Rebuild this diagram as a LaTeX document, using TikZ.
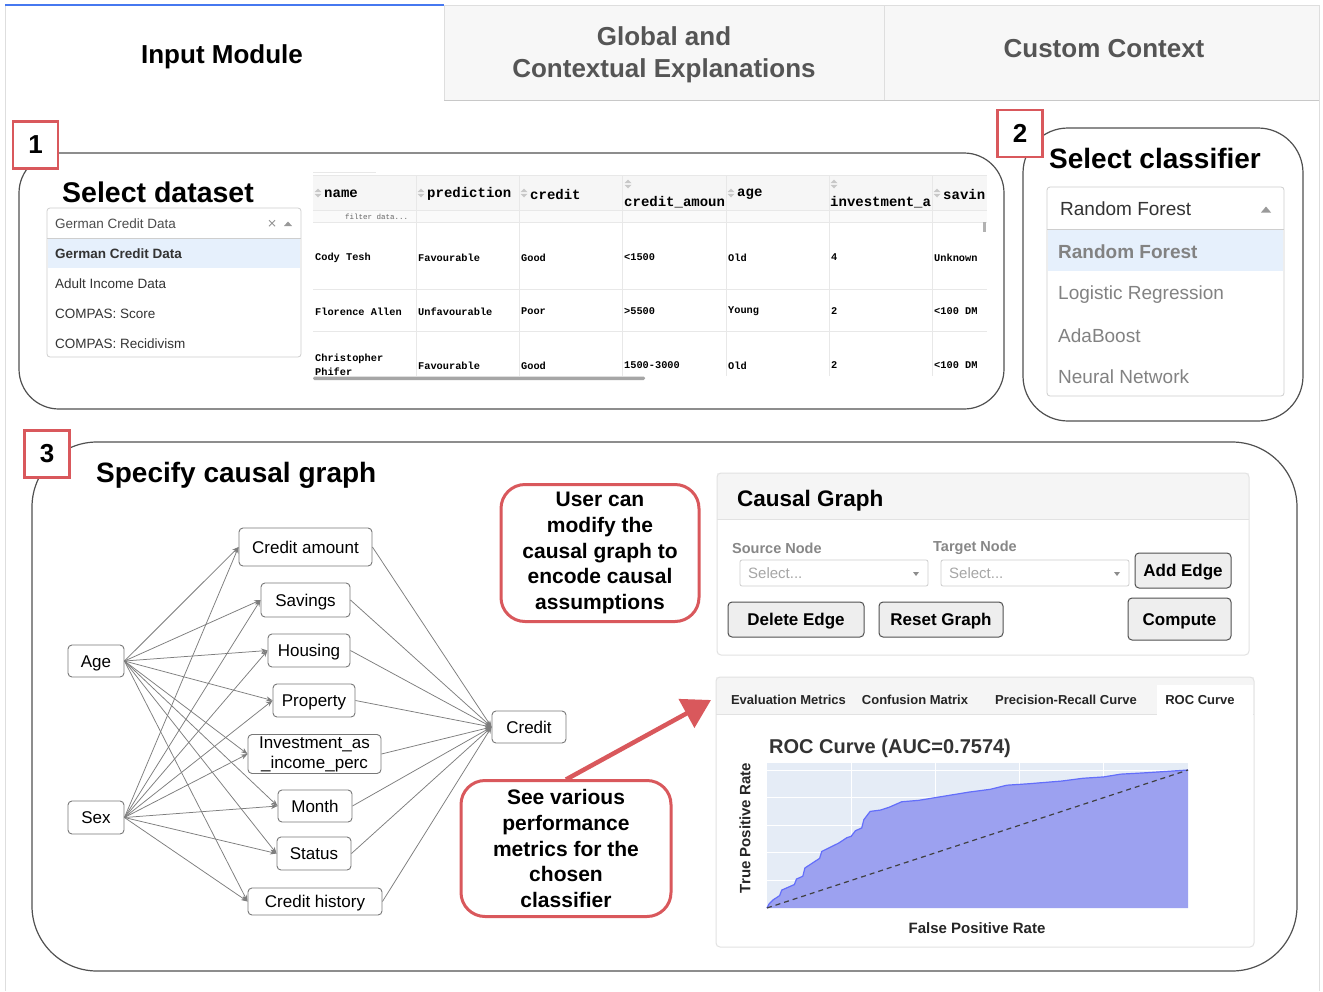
\documentclass[tikz,border=0pt]{standalone}
\usepackage{fontspec}
\setmainfont{Liberation Sans}
\newfontfamily\tablemono{Liberation Mono}
\newfontfamily\symfont{DejaVu Sans}
\usetikzlibrary{arrows.meta}
\newcommand{\pxf}[2]{\fontsize{#1}{#2}\selectfont}

\definecolor{callred}{RGB}{217,88,92}
\definecolor{tabgray}{RGB}{247,247,247}
\definecolor{tabline}{RGB}{222,222,222}
\definecolor{tabtext}{RGB}{85,85,85}
\definecolor{tabblue}{RGB}{70,120,240}
\definecolor{panelline}{RGB}{80,80,80}
\definecolor{ddline}{RGB}{206,206,206}
\definecolor{selblue}{RGB}{230,240,252}
\definecolor{cellline}{RGB}{232,232,232}
\definecolor{headfill}{RGB}{246,246,246}
\definecolor{sortgray}{RGB}{200,200,200}
\definecolor{gnodeline}{RGB}{120,120,120}
\definecolor{edgegray}{RGB}{125,125,125}
\definecolor{boxline}{RGB}{226,226,226}
\definecolor{hdrfill}{RGB}{245,245,245}
\definecolor{btnline}{RGB}{80,80,80}
\definecolor{btnfill}{RGB}{238,238,238}
\definecolor{plotbg}{RGB}{229,236,246}
\definecolor{rocfill}{RGB}{156,161,240}
\definecolor{rocline}{RGB}{99,110,250}
\definecolor{labgray}{RGB}{135,135,135}
\definecolor{optgray}{RGB}{130,130,130}

\tikzset{
  txt/.style={inner sep=0pt, anchor=west},
  panel/.style={draw=panelline, line width=1.2pt},
  numbox/.style={draw=callred, line width=2.4pt, fill=white, minimum width=45pt,
    minimum height=47pt, inner sep=0pt, font=\pxf{26}{26}\bfseries},
  ddbox/.style={draw=ddline, line width=0.8pt, rounded corners=3pt, fill=white},
  gnode/.style={draw=gnodeline, line width=0.9pt, rounded corners=4pt, fill=white,
    inner sep=0pt, font=\pxf{17}{20}, align=center},
  oneline/.style={text height=12.2pt, text depth=0pt},
  gedge/.style={draw=edgegray, line width=0.75pt, -{Stealth[length=6.5pt,width=5pt]}},
  callout/.style={draw=callred, line width=3pt, rounded corners=24pt, fill=white,
    inner sep=0pt, font=\pxf{21}{25.7}\bfseries, align=center},
  btn/.style={draw=btnline, line width=1pt, fill=btnfill, rounded corners=4pt,
    inner sep=0pt, font=\pxf{17}{17}\bfseries, oneline},
  selbox/.style={draw=ddline, line width=0.8pt, rounded corners=2pt, fill=white},
  thead/.style={txt, font=\tablemono\bfseries\pxf{14}{14}},
  tcell/.style={txt, font=\tablemono\bfseries\pxf{10.3}{12}},
  sorticon/.pic={
    \fill[sortgray] (-3.5,-0.8) -- (3.5,-0.8) -- (0,-4.5) -- cycle;
    \fill[sortgray] (-3.5,0.8) -- (3.5,0.8) -- (0,4.5) -- cycle;
  },
}

\begin{document}
\begin{tikzpicture}[x=1pt, y=-1pt]
\useasboundingbox (0,0) rectangle (1323,991);
\fill[white] (0,0) rectangle (1323,991);

% ---------- page frame and tab bar ----------
\draw[tabline, line width=0.8pt] (5,5) -- (5,991);
\draw[tabline, line width=0.8pt] (1319,5) -- (1319,991);
\fill[tabgray] (444,5) rectangle (1319,100);
\draw[tabline, line width=0.8pt] (444,5) -- (1319,5);
\draw[tabline, line width=0.8pt] (444,5) -- (444,100);
\draw[tabline, line width=0.8pt] (884,5) -- (884,100);
\draw[tabline!90!black, line width=1.2pt] (444,100.5) -- (1319,100.5);
\draw[tabblue, line width=2pt] (5,5) -- (444,5);

\node[inner sep=0pt, anchor=base, font=\pxf{26}{26}\bfseries] (tabinput) at (222,63) {Input Module};
\node[inner sep=0pt, anchor=base, font=\pxf{26}{26}\bfseries, text=tabtext] (tabglobal1) at (664,45) {Global and};
\node[inner sep=0pt, anchor=base, font=\pxf{26}{26}\bfseries, text=tabtext] (tabglobal2) at (664,77) {Contextual Explanations};
\node[inner sep=0pt, anchor=base, font=\pxf{26}{26}\bfseries, text=tabtext] (tabcustom) at (1104,57) {Custom Context};

% ---------- section 1: dataset ----------
\draw[panel, rounded corners=40pt] (19,153) rectangle (1004,409);
\node[numbox] (num1) at (35.5,145) {1};
\node[inner sep=0pt, anchor=base west, font=\pxf{28.5}{28.5}\bfseries] (seldata) at (62,202) {Select dataset};

\draw[ddbox] (47,208) rectangle (301,357);
\fill[selblue] (47.6,238) rectangle (300.4,268);
\draw[ddline, line width=0.8pt] (47,238) -- (301,238);
\node[txt, font=\pxf{13.5}{14}, text=black!70] (dd1head) at (55,223.5) {German Credit Data};
\node[txt, font=\symfont\pxf{12}{12}, text=black!45] (dd1x) at (267,224) {×};
\fill[black!40] (284,226) -- (292,226) -- (288,221.5) -- cycle;
\node[txt, font=\pxf{13.5}{14}\bfseries, text=black!80] (dd1a) at (55,253.5) {German Credit Data};
\node[txt, font=\pxf{13.5}{14}, text=black!80] (dd1b) at (55,283.5) {Adult Income Data};
\node[txt, font=\pxf{13.5}{14}, text=black!80] (dd1c) at (55,313.5) {COMPAS: Score};
\node[txt, font=\pxf{13.5}{14}, text=black!80] (dd1d) at (55,343.5) {COMPAS: Recidivism};

% data table
\fill[headfill] (313,175) rectangle (987,210);
\fill[black!2] (313,210) rectangle (987,222);
\foreach \yy in {175,210,222,289,331} {\draw[cellline, line width=0.8pt] (313,\yy) -- (987,\yy);}
\foreach \xx in {416,519,622,726,829,932} {\draw[cellline, line width=0.8pt] (\xx,175) -- (\xx,376);}
\draw[cellline, line width=0.8pt] (313,172) -- (376,172);
\fill[black!35, rounded corners=1.5pt] (313,376.5) rectangle (645,380);
\fill[black!30] (983,222) rectangle (986,232);

\pic at (318,193) {sorticon};
\node[thead] (hname) at (324,194) {name};
\pic at (421,193) {sorticon};
\node[thead] (hpred) at (427,194) {prediction};
\pic at (524,193) {sorticon};
\node[thead] (hcred) at (530,194) {credit};
\pic at (628,184) {sorticon};
\node[thead] (hamt) at (624,202.5) {credit\_amoun};
\pic at (731,193) {sorticon};
\node[thead] (hage) at (737,194) {age};
\pic at (834,184) {sorticon};
\node[thead] (hinv) at (830,202.5) {investment\_a};
\pic at (937,193) {sorticon};
\node[thead] (hsav) at (943,194) {savin};
\node[txt, font=\tablemono\pxf{7.5}{8}, text=black!60] (filt) at (345,217) {filter data...};

\node[tcell] (r1a) at (315,257.5) {Cody Tesh};
\node[tcell] (r1b) at (418,257.5) {Favourable};
\node[tcell] (r1c) at (521,257.5) {Good};
\node[tcell] (r1d) at (624,257.5) {<1500};
\node[tcell] (r1e) at (728,257.5) {Old};
\node[tcell] (r1f) at (831,257.5) {4};
\node[tcell] (r1g) at (934,257.5) {Unknown};

\node[tcell] (r2a) at (315,311.5) {Florence Allen};
\node[tcell] (r2b) at (418,311.5) {Unfavourable};
\node[tcell] (r2c) at (521,311.5) {Poor};
\node[tcell] (r2d) at (624,311.5) {>5500};
\node[tcell] (r2e) at (728,311.5) {Young};
\node[tcell] (r2f) at (831,311.5) {2};
\node[tcell] (r2g) at (934,311.5) {<100 DM};

\node[tcell] (r3a1) at (315,358.5) {Christopher};
\node[tcell] (r3a2) at (315,372) {Phifer};
\node[tcell] (r3b) at (418,365.5) {Favourable};
\node[tcell] (r3c) at (521,365.5) {Good};
\node[tcell] (r3d) at (624,365.5) {1500-3000};
\node[tcell] (r3e) at (728,365.5) {Old};
\node[tcell] (r3f) at (831,365.5) {2};
\node[tcell] (r3g) at (934,365.5) {<100 DM};

% ---------- section 2: classifier ----------
\draw[panel, rounded corners=45pt] (1023,128) rectangle (1303,421);
\node[numbox] (num2) at (1020,133.5) {2};
\node[inner sep=0pt, anchor=base west, font=\pxf{28}{28}\bfseries] (selclf) at (1049,168) {Select classifier};

\draw[ddbox] (1047,187) rectangle (1284,396);
\fill[selblue] (1047.6,229) rectangle (1283.4,271);
\draw[ddline, line width=0.8pt] (1047,229) -- (1284,229);
\node[txt, font=\pxf{19}{20}, text=black!80] (dd2head) at (1060,208.5) {Random Forest};
\fill[black!40] (1261,212.5) -- (1271,212.5) -- (1266,206.5) -- cycle;
\node[txt, font=\pxf{19}{20}\bfseries, text=optgray] (dd2a) at (1058,251.5) {Random Forest};
\node[txt, font=\pxf{19}{20}, text=optgray] (dd2b) at (1058,295) {Logistic Regression};
\node[txt, font=\pxf{19}{20}, text=optgray] (dd2c) at (1058,335.5) {AdaBoost};
\node[txt, font=\pxf{19}{20}, text=optgray] (dd2d) at (1058,376.5) {Neural Network};

% ---------- section 3: causal graph ----------
\draw[panel, rounded corners=65pt] (32,442) rectangle (1297,971);
\node[numbox] (num3) at (47,454) {3};
\node[inner sep=0pt, anchor=base west, font=\pxf{28}{28}\bfseries] (specify) at (96,482) {Specify causal graph};

% graph nodes
\node[gnode, oneline, minimum width=56pt, minimum height=32pt] (age) at (96,661) {Age};
\node[gnode, oneline, minimum width=56pt, minimum height=33pt] (sex) at (96,817.5) {Sex};
\node[gnode, oneline, minimum width=133pt, minimum height=38pt] (camt) at (305.5,547) {Credit amount};
\node[gnode, oneline, minimum width=89pt, minimum height=34pt] (sav) at (305.5,600) {Savings};
\node[gnode, oneline, minimum width=82pt, minimum height=33pt] (hous) at (309,650.5) {Housing};
\node[gnode, oneline, minimum width=82pt, minimum height=33pt] (prop) at (314,700.5) {Property};
\node[gnode, minimum width=133pt, minimum height=39pt] (inv) at (314.5,754) {Investment\_as\\\_income\_perc};
\node[gnode, oneline, minimum width=74pt, minimum height=32pt] (mon) at (315,806) {Month};
\node[gnode, oneline, minimum width=74pt, minimum height=33pt] (stat) at (314,853.5) {Status};
\node[gnode, oneline, minimum width=134pt, minimum height=27pt] (chist) at (315,901.5) {Credit history};
\node[gnode, oneline, minimum width=74pt, minimum height=32pt] (credit) at (529,727) {Credit};

\foreach \t in {camt,sav,hous,prop,inv,mon,stat,chist} {
  \draw[gedge] (age.east) -- (\t.west);
  \draw[gedge] (sex.east) -- (\t.west);
  \draw[gedge] (\t.east) -- (credit.west);
}

% annotation callouts
\node[callout, minimum width=198pt, minimum height=137pt] (usercan) at (600,553)
  {User can\\modify the\\causal graph to\\encode causal\\assumptions};
\node[callout, minimum width=210pt, minimum height=136pt] (seevar) at (566,848.5)
  {See various\\performance\\metrics for the\\chosen\\classifier};
\coordinate (metricsarrow) at (711,700);
\draw[callred, line width=4.5pt, -{Triangle[length=28pt,width=32pt]}] (566,779.5) -- (metricsarrow);

% causal graph control panel
\fill[white] (717,473) rectangle (1249,655);
\fill[hdrfill] (717,473) rectangle (1249,519);
\draw[boxline, line width=0.8pt] (717,519) -- (1249,519);
\draw[boxline, line width=1pt, rounded corners=4pt] (717,473) rectangle (1249,655);
\node[inner sep=0pt, anchor=base west, font=\pxf{22.5}{23}\bfseries] (cgtitle) at (737,506) {Causal Graph};
\node[txt, font=\pxf{14.5}{15}\bfseries, text=labgray] (srclab) at (732,548) {Source Node};
\node[txt, font=\pxf{14.5}{15}\bfseries, text=labgray] (tgtlab) at (933,548) {Target Node};
\draw[selbox] (740,560) rectangle (928,586);
\node[txt, font=\pxf{15}{15}, text=black!35] (srcsel) at (748,573) {Select...};
\fill[black!45] (913,572) -- (919,572) -- (916,576) -- cycle;
\draw[selbox] (941,560) rectangle (1129,586);
\node[txt, font=\pxf{15}{15}, text=black!35] (tgtsel) at (949,573) {Select...};
\fill[black!45] (1114,572) -- (1120,572) -- (1117,576) -- cycle;
\node[btn, minimum width=96pt, minimum height=35pt] (addedge) at (1183,570.5) {Add Edge};
\node[btn, minimum width=136pt, minimum height=35pt] (deledge) at (796,619.5) {Delete Edge};
\node[btn, minimum width=124pt, minimum height=35pt] (resetg) at (941,619.5) {Reset Graph};
\node[btn, minimum width=103pt, minimum height=42pt] (compute) at (1179.5,619) {Compute};

% metrics panel
\fill[white] (716,677) rectangle (1254,947);
\fill[hdrfill] (716,677) rectangle (1254,714);
\draw[boxline, line width=0.8pt] (716,714) -- (1254,714);
\fill[white] (1157,685) rectangle (1253,714.5);
\draw[boxline, line width=1pt, rounded corners=4pt] (716,677) rectangle (1254,947);
\node[inner sep=0pt, font=\pxf{13}{13}\bfseries, text=black!85] (tabeval) at (788.5,700) {Evaluation Metrics};
\node[inner sep=0pt, font=\pxf{13}{13}\bfseries, text=black!85] (tabconf) at (915,700) {Confusion Matrix};
\node[inner sep=0pt, anchor=base, font=\pxf{13}{13}\bfseries, text=black!85] (tabpr) at (1066,704.5) {Precision-Recall Curve};
\node[inner sep=0pt, font=\pxf{13}{13}\bfseries, text=black!85] (tabroc) at (1200,700) {ROC Curve};

\node[inner sep=0pt, anchor=base west, font=\pxf{20}{20}\bfseries, text=black!80] (roctitle) at (769,753) {ROC Curve (AUC=0.7574)};
\node[inner sep=0pt, rotate=90, font=\pxf{15}{15}\bfseries, text=black!85] (tprlab) at (745,828) {True Positive Rate};
\node[inner sep=0pt, font=\pxf{15}{15}\bfseries, text=black!85] (fprlab) at (977,928) {False Positive Rate};

% ROC plot, in rate units
\begin{scope}[shift={(767,908)}, x=421pt, y=138pt]
  \fill[plotbg] (0,0) rectangle (1,1.054);
  \foreach \g in {0.2,0.4,0.6,0.8} {\draw[white, line width=0.8pt] (\g,0) -- (\g,1.054);}
  \foreach \g in {0.2,0.4,0.6,0.8,1.0} {\draw[white, line width=0.8pt] (0,\g) -- (1,\g);}
  \fill[rocfill] (0,0) -- plot coordinates {
    (0,0) (0.005,0.03) (0.015,0.06) (0.03,0.09) (0.035,0.13) (0.05,0.15)
    (0.065,0.17) (0.07,0.21) (0.085,0.23) (0.09,0.29) (0.1,0.31) (0.115,0.34)
    (0.125,0.36) (0.13,0.41) (0.15,0.44) (0.17,0.47) (0.19,0.51) (0.2,0.52)
    (0.21,0.56) (0.225,0.58) (0.23,0.64) (0.245,0.70) (0.27,0.71) (0.29,0.73)
    (0.32,0.77) (0.36,0.78) (0.40,0.80) (0.44,0.82) (0.48,0.84) (0.53,0.86)
    (0.57,0.89) (0.62,0.90) (0.66,0.91) (0.70,0.92) (0.75,0.94) (0.80,0.95)
    (0.84,0.97) (0.90,0.98) (0.95,0.99) (1,1)} -- (1,0) -- cycle;
  \draw[rocline, line width=1.2pt] plot coordinates {
    (0,0) (0.005,0.03) (0.015,0.06) (0.03,0.09) (0.035,0.13) (0.05,0.15)
    (0.065,0.17) (0.07,0.21) (0.085,0.23) (0.09,0.29) (0.1,0.31) (0.115,0.34)
    (0.125,0.36) (0.13,0.41) (0.15,0.44) (0.17,0.47) (0.19,0.51) (0.2,0.52)
    (0.21,0.56) (0.225,0.58) (0.23,0.64) (0.245,0.70) (0.27,0.71) (0.29,0.73)
    (0.32,0.77) (0.36,0.78) (0.40,0.80) (0.44,0.82) (0.48,0.84) (0.53,0.86)
    (0.57,0.89) (0.62,0.90) (0.66,0.91) (0.70,0.92) (0.75,0.94) (0.80,0.95)
    (0.84,0.97) (0.90,0.98) (0.95,0.99) (1,1)};
  \draw[black!75, line width=1.2pt, dash pattern=on 5pt off 4pt] (0,0) -- (1,1);
\end{scope}

\end{tikzpicture}
\end{document}
